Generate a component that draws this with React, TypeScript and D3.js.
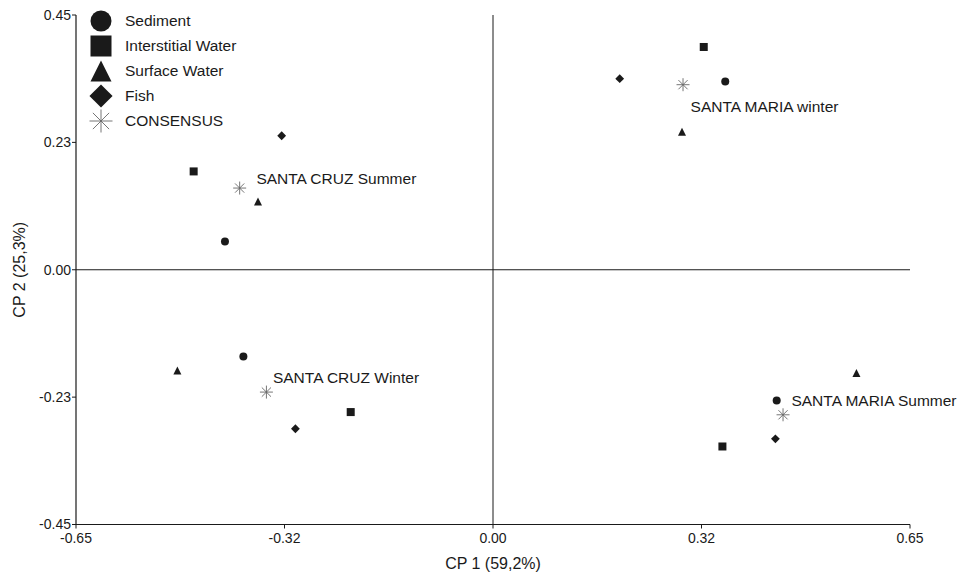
import React from "react";
import * as d3 from "d3";

const W = 960;
const H = 577;

// Score coordinates (CP1, CP2) per group, order: Sediment, Interstitial Water, Surface Water, Fish, CONSENSUS
const groups = ["SANTA MARIA winter", "SANTA CRUZ Summer", "SANTA MARIA Summer", "SANTA CRUZ Winter"];
const matrices = ["Sediment", "Interstitial Water", "Surface Water", "Fish", "CONSENSUS"];

const smWinterX = [0.362, 0.3285, 0.2946, 0.1975, 0.2962];
const smWinterY = [0.3327, 0.3935, 0.2438, 0.3375, 0.3269];
const scSummerX = [-0.4178, -0.4666, -0.3663, -0.3294, -0.3949];
const scSummerY = [0.05, 0.1737, 0.1207, 0.2367, 0.1443];
const smSummerX = [0.4422, 0.3576, 0.5665, 0.4402, 0.4521];
const smSummerY = [-0.2309, -0.3122, -0.1825, -0.2986, -0.2562];
const scWinterX = [-0.3891, -0.2218, -0.492, -0.308, -0.3532];
const scWinterY = [-0.1532, -0.2514, -0.1779, -0.2809, -0.2161];

// group label anchors (data coordinates)
const labelX = [0.308, -0.3688, 0.4652, -0.343];
const labelY = [0.2885, 0.1602, -0.2309, -0.1903];

const xTickValues = [-0.65, -0.325, 0, 0.325, 0.65];
const xTickLabels = ["-0.65", "-0.32", "0.00", "0.32", "0.65"];
const yTickValues = [0.45, 0.225, 0, -0.225, -0.45];
const yTickLabels = ["0.45", "0.23", "0.00", "-0.23", "-0.45"];

const xTitle = "CP 1 (59,2%)";
const yTitle = "CP 2 (25,3%)";

const FONT = "Liberation Sans, Arial, sans-serif";
const INK = "#1a1a1a";

function Marker({ kind, cx, cy, s }: { kind: number; cx: number; cy: number; s: number }) {
  if (kind === 0) return <circle cx={cx} cy={cy} r={s / 2} fill={INK} />;
  if (kind === 1) return <rect x={cx - s / 2} y={cy - s / 2} width={s} height={s} fill={INK} />;
  if (kind === 2) {
    const h = s;
    const p = `M${cx},${cy - h / 2} L${cx + s / 2},${cy + h / 2} L${cx - s / 2},${cy + h / 2} Z`;
    return <path d={p} fill={INK} />;
  }
  if (kind === 3) {
    const r = s / 2 + s * 0.05;
    const p = `M${cx},${cy - r} L${cx + r},${cy} L${cx},${cy + r} L${cx - r},${cy} Z`;
    return <path d={p} fill={INK} />;
  }
  const r = s / 2;
  const d = r * Math.SQRT1_2;
  const p = `M${cx - r},${cy} L${cx + r},${cy} M${cx},${cy - r} L${cx},${cy + r} M${cx - d},${cy - d} L${cx + d},${cy + d} M${cx - d},${cy + d} L${cx + d},${cy - d}`;
  return <path d={p} stroke="#666" strokeWidth={0.9} fill="none" />;
}

export default function App() {
  const x = d3.scaleLinear().domain([-0.65, 0.65]).range([76, 910]);
  const y = d3.scaleLinear().domain([-0.45, 0.45]).range([524.5, 15]);

  const xs = [smWinterX, scSummerX, smSummerX, scWinterX];
  const ys = [smWinterY, scSummerY, smSummerY, scWinterY];

  const points: { g: number; k: number; px: number; py: number }[] = [];
  xs.forEach((arr, g) =>
    arr.forEach((v, k) => points.push({ g, k, px: x(v), py: y(ys[g][k]) }))
  );

  const x0 = x(-0.65);
  const y0 = y(-0.45);

  return (
    <svg
      width={W}
      height={H}
      style={{ position: "fixed", left: 0, top: 0, background: "#fff" }}
      fontFamily={FONT}
    >
      <rect width={W} height={H} fill="#fff" />
      {/* crosshair */}
      <line x1={x(0)} x2={x(0)} y1={y(0.45)} y2={y0} stroke={INK} strokeWidth={1} />
      <line x1={x0} x2={x(0.65)} y1={y(0)} y2={y(0)} stroke={INK} strokeWidth={1} />
      {/* axes */}
      <line x1={x0} x2={x0} y1={y(0.45)} y2={y0} stroke={INK} strokeWidth={1.2} />
      <line x1={x0} x2={x(0.65)} y1={y0} y2={y0} stroke={INK} strokeWidth={1.2} />
      {xTickValues.map((v, i) => (
        <g key={"xt" + i}>
          <line x1={x(v)} x2={x(v)} y1={y0} y2={y0 + 4} stroke={INK} />
          <text x={x(v)} y={y0 + 18} fontSize={14} textAnchor="middle" fill={INK}>
            {xTickLabels[i]}
          </text>
        </g>
      ))}
      {yTickValues.map((v, i) => (
        <g key={"yt" + i}>
          <line x1={x0 - 4} x2={x0} y1={y(v)} y2={y(v)} stroke={INK} />
          <text x={x0 - 5} y={y(v)} dy="0.35em" fontSize={14} textAnchor="end" fill={INK}>
            {yTickLabels[i]}
          </text>
        </g>
      ))}
      <text x={x(0)} y={569} fontSize={16} textAnchor="middle" fill={INK}>
        {xTitle}
      </text>
      <text
        transform={`translate(25,${y(0)}) rotate(-90)`}
        fontSize={16}
        textAnchor="middle"
        fill={INK}
      >
        {yTitle}
      </text>
      {/* points */}
      {points.map((p, i) => (
        <Marker key={"p" + i} kind={p.k} cx={p.px} cy={p.py} s={p.k === 4 ? 13 : 8} />
      ))}
      {groups.map((g, i) => (
        <text key={"lab" + i} x={x(labelX[i])} y={y(labelY[i])} dy="0.35em" fontSize={15.5} fill={INK}>
          {g}
        </text>
      ))}
      {/* legend */}
      {matrices.map((m, i) => (
        <g key={"lg" + i}>
          <Marker kind={i} cx={101} cy={21 + i * 25} s={i === 4 ? 23 : 21} />
          <text x={125} y={21 + i * 25} dy="0.35em" fontSize={15.5} fill={INK}>
            {m}
          </text>
        </g>
      ))}
    </svg>
  );
}
